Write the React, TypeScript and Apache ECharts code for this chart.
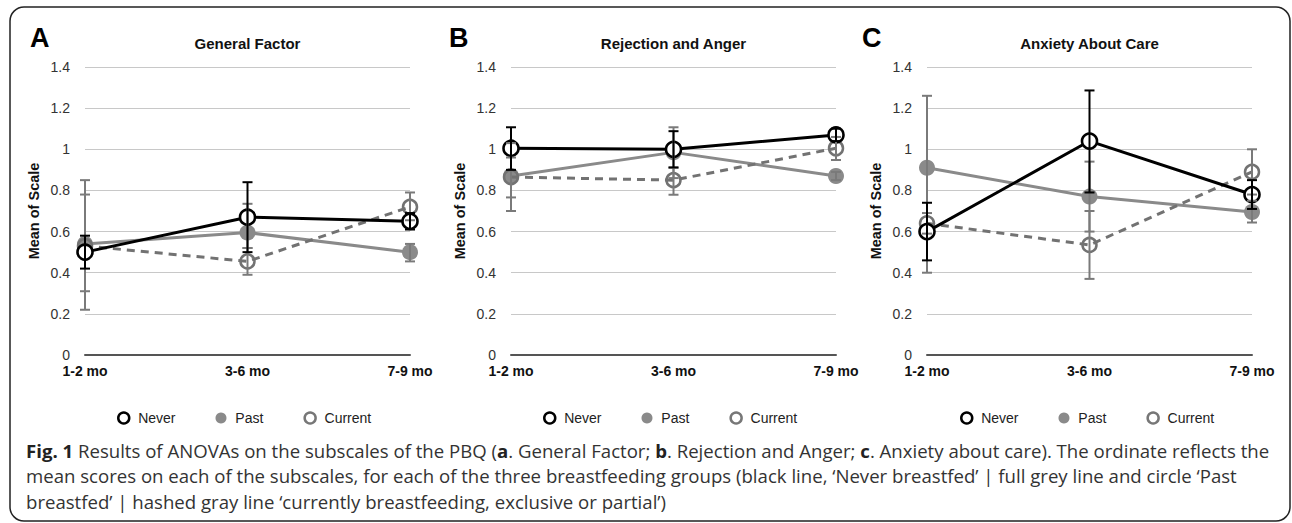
import React, { useEffect, useRef } from "react";
import * as echarts from "echarts";

const categories = ["1-2 mo", "3-6 mo", "7-9 mo"];
const yTicks = [0, 0.2, 0.4, 0.6, 0.8, 1, 1.2, 1.4];
const panelLetters = ["A", "B", "C"];
const panelTitles = ["General Factor", "Rejection and Anger", "Anxiety About Care"];
const seriesNames = ["Never", "Past", "Current"];

// Panel A – General Factor
const aNever = [0.5, 0.67, 0.65];
const aNeverErr = [[0.42, 0.58], [0.5, 0.84], [0.61, 0.69]];
const aPast = [0.54, 0.595, 0.5];
const aPastErr = [[0.22, 0.85], [0.52, 0.735], [0.455, 0.54]];
const aCurrent = [0.53, 0.455, 0.72];
const aCurrentErr = [[0.31, 0.78], [0.39, 0.52], [0.655, 0.79]];

// Panel B – Rejection and Anger
const bNever = [1.005, 1.0, 1.07];
const bNeverErr = [[0.9, 1.107], [0.912, 1.088], [1.04, 1.1]];
const bPast = [0.87, 0.985, 0.87];
const bPastErr = [[0.7, 1.03], [0.86, 1.107], [0.85, 0.89]];
const bCurrent = [0.865, 0.85, 1.005];
const bCurrentErr = [[0.766, 0.96], [0.779, 0.91], [0.948, 1.06]];

// Panel C – Anxiety About Care
const cNever = [0.6, 1.04, 0.78];
const cNeverErr = [[0.46, 0.74], [0.79, 1.286], [0.71, 0.85]];
const cPast = [0.91, 0.77, 0.695];
const cPastErr = [[0.4, 1.26], [0.6, 0.94], [0.644, 0.75]];
const cCurrent = [0.64, 0.535, 0.89];
const cCurrentErr = [[0.59, 0.69], [0.37, 0.7], [0.78, 1.0]];

const panels = [
  { values: [aNever, aPast, aCurrent], errs: [aNeverErr, aPastErr, aCurrentErr] },
  { values: [bNever, bPast, bCurrent], errs: [bNeverErr, bPastErr, bCurrentErr] },
  { values: [cNever, cPast, cCurrent], errs: [cNeverErr, cPastErr, cCurrentErr] },
];

const captionLines = [
  "{b|Fig. 1} Results of ANOVAs on the subscales of the PBQ ({b|a}. General Factor; {b|b}. Rejection and Anger; {b|c}. Anxiety about care). The ordinate reflects the",
  "mean scores on each of the subscales, for each of the three breastfeeding groups (black line, \u2018Never breastfed\u2019 | full grey line and circle \u2018Past",
  "breastfed\u2019 | hashed gray line \u2018currently breastfeeding, exclusive or partial\u2019)",
];

const FONT = "'Liberation Sans', Arial, Helvetica, sans-serif";
const CAP_FONT = "'Open Sans', 'Noto Sans', sans-serif";
const CAP_SIZE = 18.6;

const gridLefts = [85, 511, 927];
const gridWidth = 325;
const gridTop = 67;
const gridHeight = 288;
const legendLefts = [117, 543, 960];
const letterX = [30, 449, 862];

const lineColors = ["#000000", "#8a8a8a", "#727272"];
const errColors = ["#000000", "#7a7a7a", "#7a7a7a"];

export default function App() {
  const ref = useRef<HTMLDivElement>(null);
  useEffect(() => {
    if (!ref.current) return;
    const chart = echarts.init(ref.current, null, { renderer: "svg" });

    const grid: any[] = [];
    const xAxis: any[] = [];
    const yAxis: any[] = [];
    const series: any[] = [];
    const legend: any[] = [];
    const graphic: any[] = [];

    panels.forEach((p, i) => {
      grid.push({ left: gridLefts[i], top: gridTop, width: gridWidth, height: gridHeight });
      xAxis.push({
        type: "category",
        gridIndex: i,
        data: categories,
        boundaryGap: false,
        axisTick: { show: false },
        axisLine: { show: true, lineStyle: { color: "#555", width: 2 } },
        axisLabel: { color: "#111", fontWeight: "bold", fontSize: 14, fontFamily: FONT, margin: 9 },
        splitLine: { show: false },
      });
      yAxis.push({
        type: "value",
        gridIndex: i,
        min: yTicks[0],
        max: yTicks[yTicks.length - 1],
        interval: 0.2,
        name: "Mean of Scale",
        nameLocation: "middle",
        nameRotate: 90,
        nameGap: 44,
        nameTextStyle: { color: "#111", fontWeight: "bold", fontSize: 14.5, fontFamily: FONT },
        axisLine: { show: false },
        axisTick: { show: false },
        axisLabel: { color: "#333", fontSize: 14, fontFamily: FONT, margin: 15 },
        splitLine: { lineStyle: { color: "#c8c8c8", width: 1 } },
      });

      // Past (filled grey)
      series.push({
        name: seriesNames[1],
        type: "line",
        xAxisIndex: i,
        yAxisIndex: i,
        data: p.values[1],
        symbol: "circle",
        symbolSize: 16,
        lineStyle: { color: lineColors[1], width: 3 },
        itemStyle: { color: lineColors[1] },
        z: 2,
      });
      // Current (dashed, hollow)
      series.push({
        name: seriesNames[2],
        type: "line",
        xAxisIndex: i,
        yAxisIndex: i,
        data: p.values[2],
        symbol: "circle",
        symbolSize: 14,
        lineStyle: { color: lineColors[2], width: 3, type: [8, 6] },
        itemStyle: { color: "rgba(255,255,255,0)", borderColor: lineColors[2], borderWidth: 2.5 },
        z: 3,
      });
      // Never (black, hollow)
      series.push({
        name: seriesNames[0],
        type: "line",
        xAxisIndex: i,
        yAxisIndex: i,
        data: p.values[0],
        symbol: "circle",
        symbolSize: 15,
        lineStyle: { color: lineColors[0], width: 3 },
        itemStyle: { color: "#ffffff", borderColor: lineColors[0], borderWidth: 2.6 },
        z: 4,
      });

      [1, 2, 0].forEach((k) => {
        series.push({
          type: "custom",
          name: seriesNames[k] + " error",
          xAxisIndex: i,
          yAxisIndex: i,
          z: 5 + (k === 0 ? 1 : 0),
          silent: true,
          data: p.errs[k].map((e, j) => [j, e[0], e[1]]),
          renderItem: (params: any, api: any) => {
            const lo = api.coord([api.value(0), api.value(1)]);
            const hi = api.coord([api.value(0), api.value(2)]);
            const cw = 5;
            const style = { stroke: errColors[k], lineWidth: 2, fill: "none" };
            return {
              type: "group",
              children: [
                { type: "line", shape: { x1: lo[0], y1: lo[1], x2: hi[0], y2: hi[1] }, style },
                { type: "line", shape: { x1: lo[0] - cw, y1: lo[1], x2: lo[0] + cw, y2: lo[1] }, style },
                { type: "line", shape: { x1: hi[0] - cw, y1: hi[1], x2: hi[0] + cw, y2: hi[1] }, style },
              ],
            };
          },
        });
      });

      legend.push({
        left: legendLefts[i],
        top: 411,
        padding: 0,
        orient: "horizontal",
        itemWidth: 11,
        itemHeight: 11,
        itemGap: 40,
        icon: "circle",
        formatter: " {name}",
        textStyle: { color: "#222", fontSize: 14, fontFamily: FONT },
        selectedMode: false,
        data: [
          { name: seriesNames[0], itemStyle: { color: "#ffffff", borderColor: "#000", borderWidth: 2.5 } },
          { name: seriesNames[1], itemStyle: { color: "#8a8a8a", borderWidth: 0 } },
          { name: seriesNames[2], itemStyle: { color: "#ffffff", borderColor: "#777", borderWidth: 2.5 } },
        ],
      });

      graphic.push({
        type: "text",
        left: letterX[i],
        top: 24,
        style: { text: panelLetters[i], font: `bold 27px ${FONT}`, fill: "#000" },
      });
      graphic.push({
        type: "text",
        x: gridLefts[i] + gridWidth / 2,
        y: 43,
        style: {
          text: panelTitles[i],
          font: `bold 15px ${FONT}`,
          fill: "#111",
          textAlign: "center",
          textVerticalAlign: "middle",
        },
      });
    });

    graphic.push({
      type: "rect",
      shape: { x: 10, y: 7, width: 1280, height: 514, r: 14 },
      style: { fill: "none", stroke: "#222", lineWidth: 1.5 },
      silent: true,
    });

    captionLines.forEach((t, idx) => {
      graphic.push({
        type: "text",
        x: 26,
        y: 450 + idx * 25.5,
        style: {
          text: t,
          fill: "#333",
          font: `${CAP_SIZE}px ${CAP_FONT}`,
          textVerticalAlign: "middle",
          rich: {
            b: { fontWeight: "bold", fontSize: CAP_SIZE, fontFamily: CAP_FONT, fill: "#222" },
          },
        },
      });
    });

    chart.setOption({
      animation: false,
      backgroundColor: "#ffffff",
      grid,
      xAxis,
      yAxis,
      series,
      legend,
      graphic,
    });
    return () => chart.dispose();
  }, []);
  return (
    <div
      ref={ref}
      style={{ position: "absolute", left: 0, top: 0, width: 1292, height: 523 }}
    />
  );
}
